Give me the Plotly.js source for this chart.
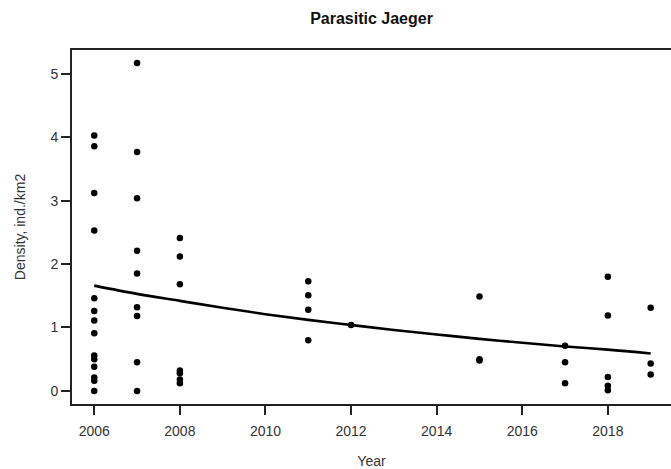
<!DOCTYPE html>
<html>
<head>
<meta charset="utf-8">
<script src="https://cdn.plot.ly/plotly-3.0.1.min.js"></script>
<style>html,body{margin:0;padding:0;background:#fff;}#chart{width:671px;height:469px;}</style>
</head>
<body>
<div id="chart"></div>
<script>
// Observations (year, density ind./km2)
const obsYears = [
  2006,2006,2006,2006,2006,2006,2006,2006,2006,2006,2006,2006,2006,2006,
  2007,2007,2007,2007,2007,2007,2007,2007,2007,
  2008,2008,2008,2008,2008,2008,2008,
  2011,2011,2011,2011,
  2012,
  2015,2015,2015,
  2017,2017,2017,
  2018,2018,2018,2018,2018,
  2019,2019,2019
];
const obsDensity = [
  4.03,3.86,3.12,2.53,1.46,1.26,1.11,0.91,0.56,0.50,0.38,0.21,0.16,0.00,
  5.17,3.77,3.04,2.21,1.85,1.32,1.18,0.45,0.00,
  2.41,2.12,1.68,0.32,0.28,0.18,0.12,
  1.73,1.51,1.28,0.80,
  1.04,
  1.49,0.50,0.48,
  0.71,0.45,0.12,
  1.80,1.19,0.22,0.08,0.01,
  1.31,0.43,0.26
];
// Fitted trend
const fitYears = [2006,2007,2008,2009,2010,2011,2012,2013,2014,2015,2016,2017,2018,2019];
const fitDensity = [1.66,1.53,1.42,1.31,1.21,1.12,1.04,0.96,0.89,0.82,0.76,0.70,0.65,0.59];

const xTicks = [2006,2008,2010,2012,2014,2016,2018];
const yTicks = [0,1,2,3,4,5];

const font = "Liberation Sans, Arial, sans-serif";

const traces = [
  {x: obsYears, y: obsDensity, type: 'scatter', mode: 'markers',
   marker: {color: '#000', size: 6.5}, hoverinfo: 'skip'},
  {x: fitYears, y: fitDensity, type: 'scatter', mode: 'lines',
   line: {color: '#000', width: 2.6, shape: 'spline'}, hoverinfo: 'skip'}
];

const layout = {
  width: 671, height: 469,
  margin: {l: 72, r: 0, t: 50, b: 65},
  paper_bgcolor: '#fff', plot_bgcolor: '#fff',
  showlegend: false,
  font: {family: font, color: '#222', size: 14},
  title: {text: '<b>Parasitic Jaeger</b>', font: {family: font, size: 16, color: '#111'},
          x: 0.5, xref: 'paper', xanchor: 'center', y: 0.96, yref: 'container', yanchor: 'middle'},
  xaxis: {
    range: [2005.48, 2019.475], tickvals: xTicks, ticktext: xTicks.map(String),
    showgrid: false, zeroline: false, showline: true, linecolor: '#222', linewidth: 2,
    mirror: true, ticks: 'outside', ticklen: 9, tickwidth: 2, tickcolor: '#222',
    ticklabelstandoff: 4,
    tickfont: {size: 14, color: '#333'},
    title: {text: 'Year', font: {size: 14, color: '#333'}, standoff: 20}
  },
  yaxis: {
    range: [-0.207, 5.377], tickvals: yTicks, ticktext: yTicks.map(String),
    showgrid: false, zeroline: false, showline: true, linecolor: '#222', linewidth: 2,
    ticks: 'outside', ticklen: 9, tickwidth: 2, tickcolor: '#222',
    tickfont: {size: 14, color: '#333'},
    title: {text: 'Density, ind./km2', font: {size: 14, color: '#333'}, standoff: 22}
  }
};

Plotly.newPlot('chart', traces, layout, {staticPlot: true, displayModeBar: false});
</script>
</body>
</html>
